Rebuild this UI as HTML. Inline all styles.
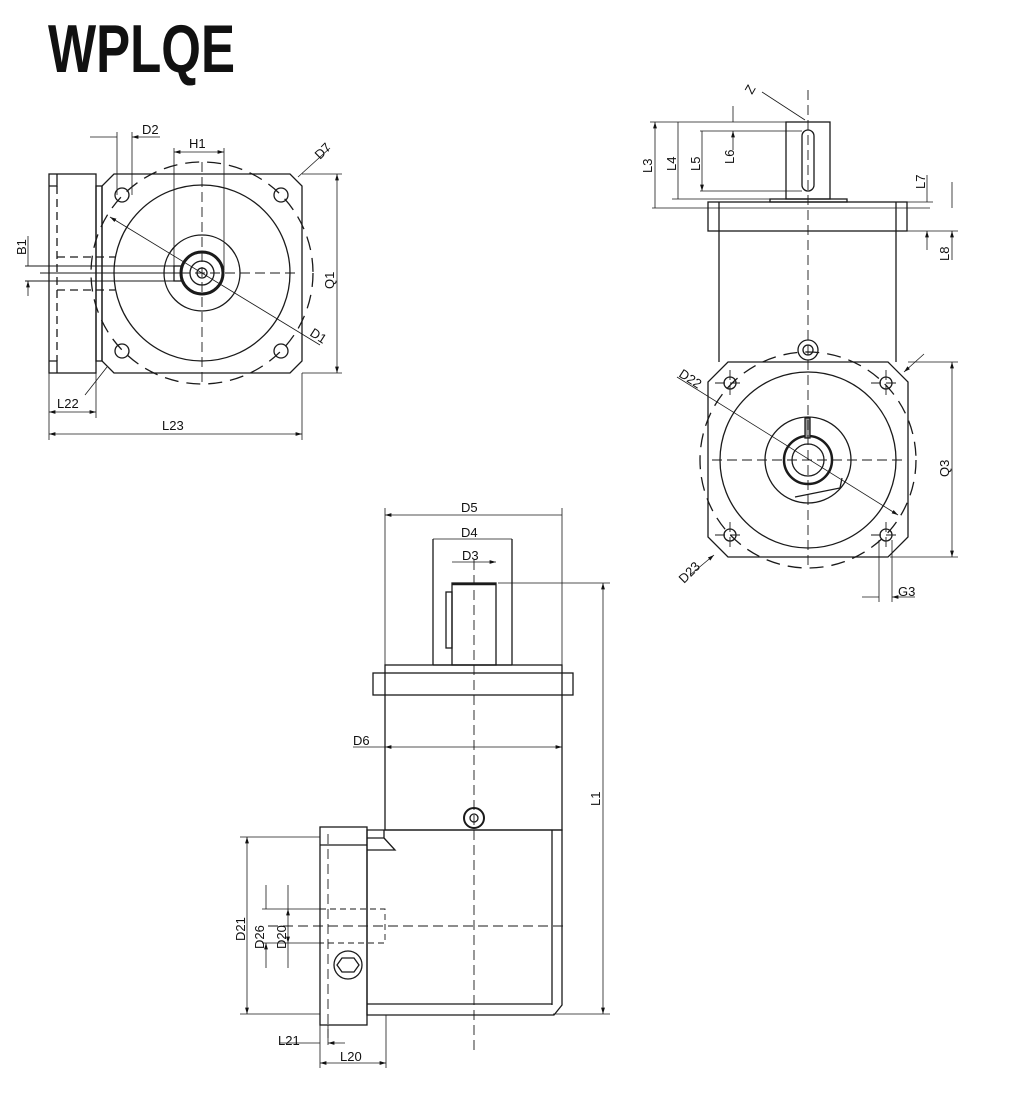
<!DOCTYPE html>
<html><head><meta charset="utf-8"><style>
body{margin:0;background:#fff;width:1024px;height:1112px;overflow:hidden}
svg{display:block}
text{font-family:"Liberation Sans",sans-serif;font-size:13px;fill:#111}
</style></head><body>
<svg width="1024" height="1112" viewBox="0 0 1024 1112" xmlns="http://www.w3.org/2000/svg">
<defs>
<marker id="a" viewBox="0 0 10 6" refX="10" refY="3" markerWidth="8" markerHeight="5" orient="auto-start-reverse"><path d="M0,0L10,3L0,6z" fill="#111"/></marker>
</defs>
<text x="48" y="72" style="font-size:68px;font-weight:bold" transform="translate(48 0) scale(0.75 1) translate(-48 0)">WPLQE</text>

<g stroke="#1a1a1a" stroke-width="1.3" fill="none">
<!-- ===== VIEW 1 ===== -->
<rect x="49" y="174" width="47" height="199"/>
<path d="M49 186H57V174M49 361H57V373" />
<rect x="96" y="186" width="6" height="175"/>
<path d="M114 174H290L302 186V361L290 373H114L102 361V186Z"/>
<circle cx="202" cy="273" r="111" stroke-dasharray="14 8"/>
<circle cx="202" cy="273" r="88"/>
<circle cx="202" cy="273" r="38"/>
<circle cx="202" cy="273" r="21" stroke-width="3"/>
<circle cx="202" cy="273" r="12"/>
<circle cx="202" cy="273" r="5"/>
<circle cx="122" cy="195" r="7"/><circle cx="281" cy="195" r="7"/>
<circle cx="122" cy="351" r="7"/><circle cx="281" cy="351" r="7"/>
<path d="M202 162V385M90 273H300" stroke-dasharray="10 5" stroke-width="0.9"/>
<path d="M57 186V361M57 257H115M57 290H115" stroke-dasharray="8 5"/>
<path d="M25 266H180M25 281H180M40 273H180" stroke-width="0.9"/>
<rect x="174" y="266" width="7" height="15"/>
<path d="M117 132V195M132 132V195M174 148V270M224 148V270" stroke-width="0.8"/>
<path d="M90 137H117M160 137H132" marker-end="url(#a)" stroke-width="0.8"/>
<path d="M174 152H224" marker-start="url(#a)" marker-end="url(#a)" stroke-width="0.8"/>
<path d="M298 177L330 148" stroke-width="0.8"/>
<path d="M110 217L320 345" marker-start="url(#a)" stroke-width="0.8"/>
<path d="M302 174H342M302 373H342" stroke-width="0.8"/>
<path d="M337 174V373" marker-start="url(#a)" marker-end="url(#a)" stroke-width="0.8"/>
<path d="M28 236V266M28 296V281" marker-end="url(#a)" stroke-width="0.8"/>
<path d="M49 373V440M96 373V418M302 373V440" stroke-width="0.8"/>
<path d="M49 412H96" marker-start="url(#a)" marker-end="url(#a)" stroke-width="0.8"/>
<path d="M49 434H302" marker-start="url(#a)" marker-end="url(#a)" stroke-width="0.8"/>
<path d="M85 395L107 367" stroke-width="0.8"/>

<!-- ===== VIEW 2 ===== -->
<rect x="786" y="122" width="44" height="77"/>
<rect x="802" y="130" width="12" height="61" rx="6"/>
<rect x="770" y="199" width="77" height="3"/>
<rect x="708" y="202" width="199" height="29"/>
<path d="M719 202V231M896 202V231"/>
<path d="M719 231V362M896 231V362"/>
<path d="M728 362H888L908 382V537L888 557H728L708 537V382Z"/>
<circle cx="808" cy="460" r="108" stroke-dasharray="14 8"/>
<circle cx="808" cy="460" r="88"/>
<circle cx="808" cy="460" r="43"/>
<circle cx="808" cy="460" r="24" stroke-width="2.5"/>
<circle cx="808" cy="460" r="16"/>
<rect x="805" y="418" width="5" height="20" fill="#999"/>
<path d="M795 497L840 488L842 478"/>
<circle cx="808" cy="350" r="10"/><circle cx="808" cy="350" r="5"/>
<g><circle cx="730" cy="383" r="6"/><circle cx="886" cy="383" r="6"/><circle cx="730" cy="535" r="6"/><circle cx="886" cy="535" r="6"/></g>
<path d="M808 90V570M712 460H905M715 383H745M871 383H901M715 535H745M871 535H901M730 370V396M886 370V396M730 522V548M886 522V548" stroke-dasharray="10 5" stroke-width="0.9"/>
<path d="M650 122H800M700 131H802M700 191H802M672 199H770M652 208H930M905 202H933M905 231H958" stroke-width="0.8"/>
<path d="M655 122V208M678 122V199M702 131V191" marker-start="url(#a)" marker-end="url(#a)" stroke-width="0.8"/>
<path d="M733 106V122M733 150V131" marker-end="url(#a)" stroke-width="0.8"/>
<path d="M927 175V202M927 250V231" marker-end="url(#a)" stroke-width="0.8"/>
<path d="M952 182V208M952 260V231" marker-end="url(#a)" stroke-width="0.8"/>
<path d="M762 92L805 120" stroke-width="0.8"/>
<path d="M908 362H958M890 557H958" stroke-width="0.8"/>
<path d="M952 362V557" marker-start="url(#a)" marker-end="url(#a)" stroke-width="0.8"/>
<path d="M677 377L898 515" marker-end="url(#a)" stroke-width="0.8"/>
<path d="M690 575L714 555" marker-end="url(#a)" stroke-width="0.8"/>
<path d="M924 354L904 372" marker-end="url(#a)" stroke-width="0.8"/>
<path d="M879 540V602M892 540V602" stroke-width="0.8"/>
<path d="M862 597H879M915 597H892" marker-end="url(#a)" stroke-width="0.8"/>

<!-- ===== VIEW 3 ===== -->
<rect x="452" y="583" width="44" height="82"/>
<path d="M452 584H496" stroke-width="2.5"/>
<rect x="446" y="592" width="6" height="56"/>
<path d="M433 665V539M512 665V539M433 665H512"/>
<rect x="385" y="665" width="177" height="165"/>
<rect x="373" y="673" width="200" height="22"/>
<circle cx="474" cy="818" r="10" stroke-width="2"/><circle cx="474" cy="818" r="4"/>
<path d="M367 830H562V1005L554 1015H367Z"/>
<path d="M552 830V1005"/>
<path d="M367 838H384V830M367 850H395L384 838"/>
<rect x="320" y="827" width="47" height="198"/>
<path d="M320 845H367"/>
<path d="M367 1004H552"/>
<circle cx="348" cy="965" r="14"/>
<path d="M342 958H354L359 965L354 972H342L337 965Z"/>
<path d="M474 560V1050M268 926H568M328 834V1038" stroke-dasharray="10 5" stroke-width="0.9"/>
<path d="M320 909H385V943H320" stroke-dasharray="6 4" stroke-width="0.9"/>
<path d="M385 508V665M562 508V665M498 583H610M553 1014H610M240 837H320M240 1014H320M262 909H320M262 943H320M320 1025V1068M328 1025V1045M386 1015V1068" stroke-width="0.8"/>
<path d="M385 515H562M433 539H512M452 562H496" marker-start="url(#a)" marker-end="url(#a)" stroke-width="0.8"/>
<path d="M385 747H562" marker-start="url(#a)" marker-end="url(#a)" stroke-width="0.8"/>
<path d="M353 747H385" stroke-width="0.8"/>
<path d="M603 583V1014" marker-start="url(#a)" marker-end="url(#a)" stroke-width="0.8"/>
<path d="M247 837V1014" marker-start="url(#a)" marker-end="url(#a)" stroke-width="0.8"/>
<path d="M266 885V909M266 968V943" marker-end="url(#a)" stroke-width="0.8"/>
<path d="M288 885V909M288 968V943" stroke-width="0.8"/>
<path d="M288 909V943" marker-start="url(#a)" marker-end="url(#a)" stroke-width="0.8"/>
<path d="M280 1043H320M345 1043H328" marker-end="url(#a)" stroke-width="0.8"/>
<path d="M320 1063H386" marker-start="url(#a)" marker-end="url(#a)" stroke-width="0.8"/>
</g>

<text x="142" y="134">D2</text>
<text x="189" y="148">H1</text>
<text x="0" y="0" transform="translate(320 160) rotate(-45)">D7</text>
<text x="0" y="0" transform="translate(309 335) rotate(33)">D1</text>
<text x="0" y="0" transform="translate(334 289) rotate(-90)">Q1</text>
<text x="0" y="0" transform="translate(26 255) rotate(-90)">B1</text>
<text x="57" y="408">L22</text>
<text x="162" y="430">L23</text>

<text x="0" y="0" transform="translate(752 95) rotate(-60)">Z</text>
<text x="0" y="0" transform="translate(652 173) rotate(-90)">L3</text>
<text x="0" y="0" transform="translate(676 171) rotate(-90)">L4</text>
<text x="0" y="0" transform="translate(700 171) rotate(-90)">L5</text>
<text x="0" y="0" transform="translate(734 164) rotate(-90)">L6</text>
<text x="0" y="0" transform="translate(925 189) rotate(-90)">L7</text>
<text x="0" y="0" transform="translate(949 261) rotate(-90)">L8</text>
<text x="0" y="0" transform="translate(949 477) rotate(-90)">Q3</text>
<text x="0" y="0" transform="translate(678 376) rotate(33)">D22</text>
<text x="0" y="0" transform="translate(684 584) rotate(-45)">D23</text>
<text x="898" y="596">G3</text>

<text x="461" y="512">D5</text>
<text x="461" y="537">D4</text>
<text x="462" y="560">D3</text>
<text x="353" y="745">D6</text>
<text x="0" y="0" transform="translate(600 806) rotate(-90)">L1</text>
<text x="0" y="0" transform="translate(245 941) rotate(-90)">D21</text>
<text x="0" y="0" transform="translate(264 949) rotate(-90)">D26</text>
<text x="0" y="0" transform="translate(286 949) rotate(-90)">D20</text>
<text x="278" y="1045">L21</text>
<text x="340" y="1061">L20</text>
</svg>
</body></html>
